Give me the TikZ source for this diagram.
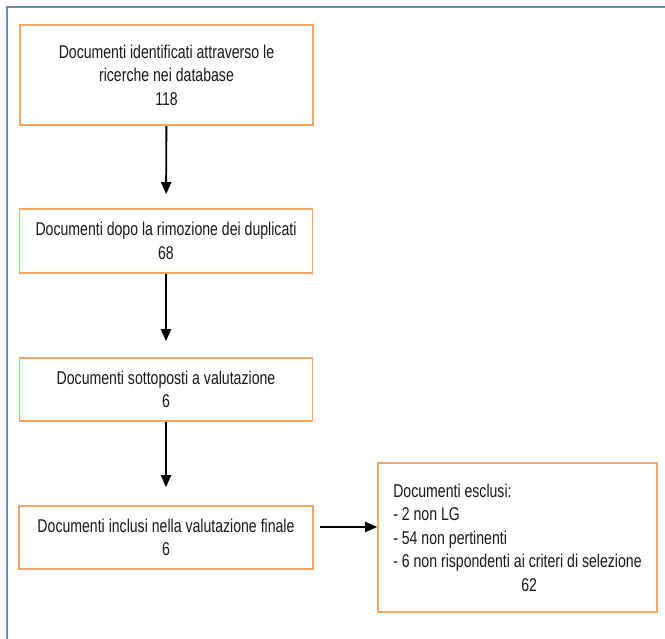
\documentclass[tikz,border=0pt]{standalone}
\usepackage{fontspec}
\setmainfont{Liberation Sans}[FakeStretch=0.762]
\usetikzlibrary{arrows.meta}
\definecolor{boxorange}{RGB}{247,164,104}
\definecolor{frameblue}{RGB}{96,138,200}
\begin{document}
\begin{tikzpicture}[x=1pt,y=-1pt]
        \tikzstyle{doc}=[rectangle,draw=boxorange,line width=1.6pt,fill=white,inner sep=0pt,align=center,text=black!90,font=\fontsize{18.5}{23.5}\selectfont]
        \tikzstyle{edge}=[draw,line width=1.9pt,-{Triangle[length=12pt,width=10pt]}]
        \useasboundingbox (0,0) rectangle (665,639);
        \draw[frameblue,line width=1.4pt] (7,639) -- (7,7) -- (665,7);
        \begin{scope}
            \node [doc,minimum width=293,minimum height=100] (ident) at (166.5,75) {Documenti identificati attraverso le\\ricerche nei database\\118};
            \node [doc,minimum width=293,minimum height=64] (dupl) at (166,241) {Documenti dopo la rimozione dei duplicati\\68};
            \node [doc,minimum width=293,minimum height=63] (valut) at (166,389.5) {Documenti sottoposti a valutazione\\6};
            \node [doc,minimum width=294,minimum height=63] (incl) at (166,537.5) {Documenti inclusi nella valutazione finale\\6};
            \node [doc,minimum width=279,minimum height=149,align=left] (escl) at (517.5,537.5) {Documenti esclusi:\\- 2 non LG\\- 54 non pertinenti\\- 6 non rispondenti ai criteri di selezione\\\hspace*{128pt}62};
            \draw[edge,shorten >=14pt] (ident) -- (dupl);
            \draw[edge,shorten >=16pt] (dupl) -- (valut);
            \draw[edge,shorten >=18pt] (valut) -- (incl);
            \draw[edge,shorten <=6pt] ([yshift=10.5pt]incl.east) -- ([yshift=10.5pt]escl.west);
        \end{scope}
\end{tikzpicture}
\end{document}
